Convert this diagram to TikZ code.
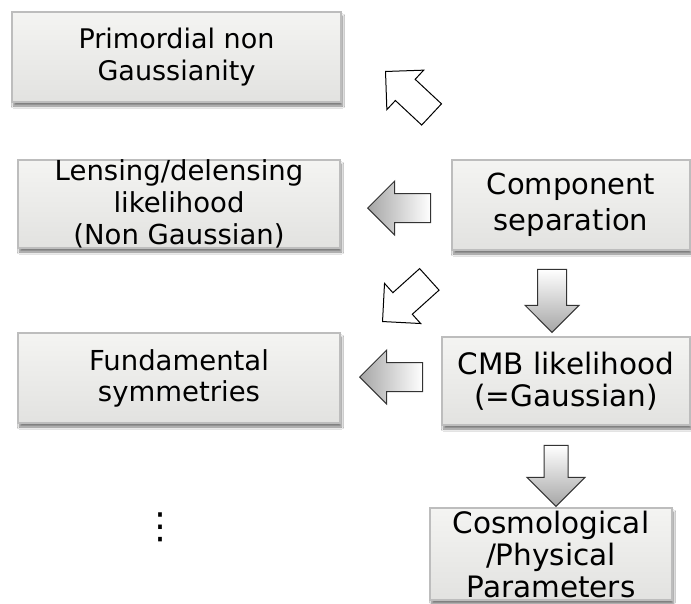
\documentclass[tikz,border=0pt]{standalone}
\usepackage{fontspec}
\setmainfont{DejaVu Sans}
\usepackage{tikz}
\usetikzlibrary{shapes.arrows,shadows.blur}

\definecolor{boxtop}{HTML}{F4F4F2}
\definecolor{boxbot}{HTML}{E2E2E0}
\definecolor{boxline}{HTML}{BDBDBD}

\newcommand{\boxfont}[2]{\fontsize{#1}{#2}\selectfont}

\tikzset{
	panel/.style={draw=boxline, line width=1.2pt, top color=boxtop, bottom color=boxbot,
		inner sep=0pt, align=center, font=\boxfont{27.5}{32},
		blur shadow={shadow xshift=1.5pt, shadow yshift=-4pt, shadow blur steps=6, shadow opacity=50}},
	blockarrow/.style={single arrow, draw=black!80, line width=1pt, anchor=tip,
		minimum height=63pt, inner sep=14pt, single arrow head extend=12.5pt},
	leftarrow/.style={blockarrow, rotate=180, left color=gray!70, right color=white},
	downarrow/.style={blockarrow, rotate=-90, top color=white, bottom color=gray!70},
	whitearrow/.style={blockarrow, fill=white, draw=black}
}

\begin{document}
\begin{tikzpicture}[x=1pt, y=-1pt]
	\useasboundingbox[fill=white] (0,0) rectangle (691,603);
	% boxes
	\node[panel, font=\boxfont{27}{31.5}, minimum width=329pt, minimum height=90pt] (prim) at (176.5,57) {Primordial non\\Gaussianity};
	\node[panel, inner ysep=-3pt, minimum width=322pt, minimum height=88pt] (lens) at (179,204) {Lensing/delensing\\likelihood\\(Non Gaussian)};
	\node[panel, font=\boxfont{27.5}{31}, minimum width=322pt, minimum height=90pt] (fund) at (179,378) {Fundamental\\symmetries};
	\node[panel, font=\boxfont{29}{36}, minimum width=238pt, minimum height=90pt] (comp) at (571,205) {Component\\separation};
	\node[panel, font=\boxfont{29.5}{32}, minimum width=248pt, minimum height=88pt] (cmb) at (566,381) {CMB likelihood\\(=Gaussian)};
	\node[panel, font=\boxfont{29.5}{32}, minimum width=242pt, minimum height=92pt] (cosmo) at (551,554) {Cosmological\\/Physical\\Parameters};
	\node[font=\boxfont{36}{40}] (more) at (160,527) {⋮};
	% block arrows
	\node[whitearrow, rotate=137] (toprim) at (385,71) {};
	\node[leftarrow] (tolens) at (367,208) {};
	\node[whitearrow, rotate=222] (tofund) at (382,322) {};
	\node[downarrow] (tocmb) at (552,333) {};
	\node[leftarrow] (fromcmb) at (359,377) {};
	\node[downarrow, inner sep=11.5pt, single arrow head extend=17pt, minimum height=61pt] (tocosmo) at (556,507) {};
\end{tikzpicture}
\end{document}
